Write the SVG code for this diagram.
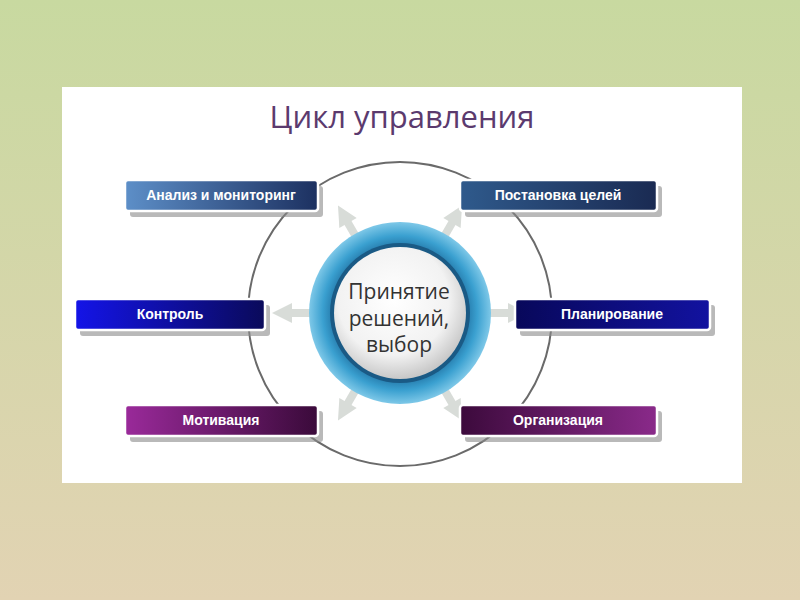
<svg xmlns="http://www.w3.org/2000/svg" width="800" height="600" viewBox="0 0 800 600">
<defs>
<linearGradient id="bg" x1="0" y1="0" x2="0" y2="1"><stop offset="0" stop-color="#c8d9a0"/><stop offset="1" stop-color="#e2d3b3"/></linearGradient>
<linearGradient id="g1" x1="0" x2="1"><stop offset="0" stop-color="#5d8fc8"/><stop offset="1" stop-color="#1c3060"/></linearGradient>
<linearGradient id="g2" x1="0" x2="1"><stop offset="0" stop-color="#2f5a8c"/><stop offset="1" stop-color="#1a2a52"/></linearGradient>
<linearGradient id="g3" x1="0" x2="1"><stop offset="0" stop-color="#1414e8"/><stop offset="1" stop-color="#0a0a5a"/></linearGradient>
<linearGradient id="g4" x1="0" x2="1"><stop offset="0" stop-color="#08085a"/><stop offset="1" stop-color="#1212a0"/></linearGradient>
<linearGradient id="g5" x1="0" x2="1"><stop offset="0" stop-color="#9a2a9a"/><stop offset="1" stop-color="#3a0a3a"/></linearGradient>
<linearGradient id="g6" x1="0" x2="1"><stop offset="0" stop-color="#3c0a3c"/><stop offset="1" stop-color="#8a2a8a"/></linearGradient>
<radialGradient id="ring" cx="0.5" cy="0.5" r="0.5"><stop offset="0.7" stop-color="#1f6fa0"/><stop offset="0.85" stop-color="#3aa0d0"/><stop offset="1" stop-color="#7ec8e8"/></radialGradient>
<radialGradient id="inner" cx="0.45" cy="0.4" r="0.6"><stop offset="0" stop-color="#ffffff"/><stop offset="0.7" stop-color="#f2f2f2"/><stop offset="1" stop-color="#c8c8c8"/></radialGradient>
<g id="adiag"><rect x="86" y="-4" width="20" height="8" fill="#d8dcd8"/><polygon points="104,-10 124,0 104,10" fill="#d8dcd8"/></g>
<g id="ahor"><rect x="86" y="-4" width="24" height="8" fill="#d8dcd8"/><polygon points="108,-10 128,0 108,10" fill="#d8dcd8"/></g>
</defs>
<style>
.box{stroke:#fff;stroke-width:2.5}
.sh{fill:#8a8a8a;opacity:0.6}
.lbl{font-family:"Liberation Sans",Arial,sans-serif;font-size:14px;font-weight:bold;fill:#fff;text-anchor:middle}
</style>
<rect width="800" height="600" fill="url(#bg)"/>
<rect x="62" y="87" width="680" height="396" fill="#fff"/>
<text x="402" y="128" font-family="'Open Sans','Liberation Sans',sans-serif" font-size="31" fill="#5b3a6e" text-anchor="middle">Цикл  управления</text>
<circle cx="400" cy="314" r="152" fill="none" stroke="#6a6a6a" stroke-width="2"/>
<g id="connectors" transform="translate(400,313)">
<use href="#adiag" transform="rotate(-120)"/>
<use href="#adiag" transform="rotate(-60)"/>
<use href="#ahor" transform="rotate(180)"/>
<use href="#ahor"/>
<use href="#adiag" transform="rotate(120)"/>
<use href="#adiag" transform="rotate(60)"/>
</g>
<g id="center">
<circle cx="400" cy="313" r="91" fill="url(#ring)"/>
<circle cx="400" cy="313" r="70" fill="#1a5a85"/>
<circle cx="400" cy="313" r="66" fill="url(#inner)"/>
<text font-family="'Open Sans','Liberation Sans',sans-serif" font-size="21" fill="#333" text-anchor="middle"><tspan x="399" y="299">Принятие</tspan><tspan x="399" y="326">решений,</tspan><tspan x="399" y="352">выбор</tspan></text>
</g>
<g id="n1"><rect class="sh" x="130" y="186" width="193" height="31" rx="3"/><rect class="box" x="125" y="180" width="193" height="31" rx="3" fill="url(#g1)"/><text class="lbl" x="221" y="200">Анализ и мониторинг</text></g>
<g id="n2"><rect class="sh" x="465" y="186" width="197" height="31" rx="3"/><rect class="box" x="460" y="180" width="197" height="31" rx="3" fill="url(#g2)"/><text class="lbl" x="558" y="200">Постановка  целей</text></g>
<g id="n3"><rect class="sh" x="80" y="305" width="190" height="31" rx="3"/><rect class="box" x="75" y="299" width="190" height="31" rx="3" fill="url(#g3)"/><text class="lbl" x="170" y="319">Контроль</text></g>
<g id="n4"><rect class="sh" x="520" y="305" width="195" height="31" rx="3"/><rect class="box" x="515" y="299" width="195" height="31" rx="3" fill="url(#g4)"/><text class="lbl" x="612" y="319">Планирование</text></g>
<g id="n5"><rect class="sh" x="130" y="411" width="193" height="31" rx="3"/><rect class="box" x="125" y="405" width="193" height="31" rx="3" fill="url(#g5)"/><text class="lbl" x="221" y="425">Мотивация</text></g>
<g id="n6"><rect class="sh" x="465" y="411" width="197" height="31" rx="3"/><rect class="box" x="460" y="405" width="197" height="31" rx="3" fill="url(#g6)"/><text class="lbl" x="558" y="425">Организация</text></g>
</svg>
